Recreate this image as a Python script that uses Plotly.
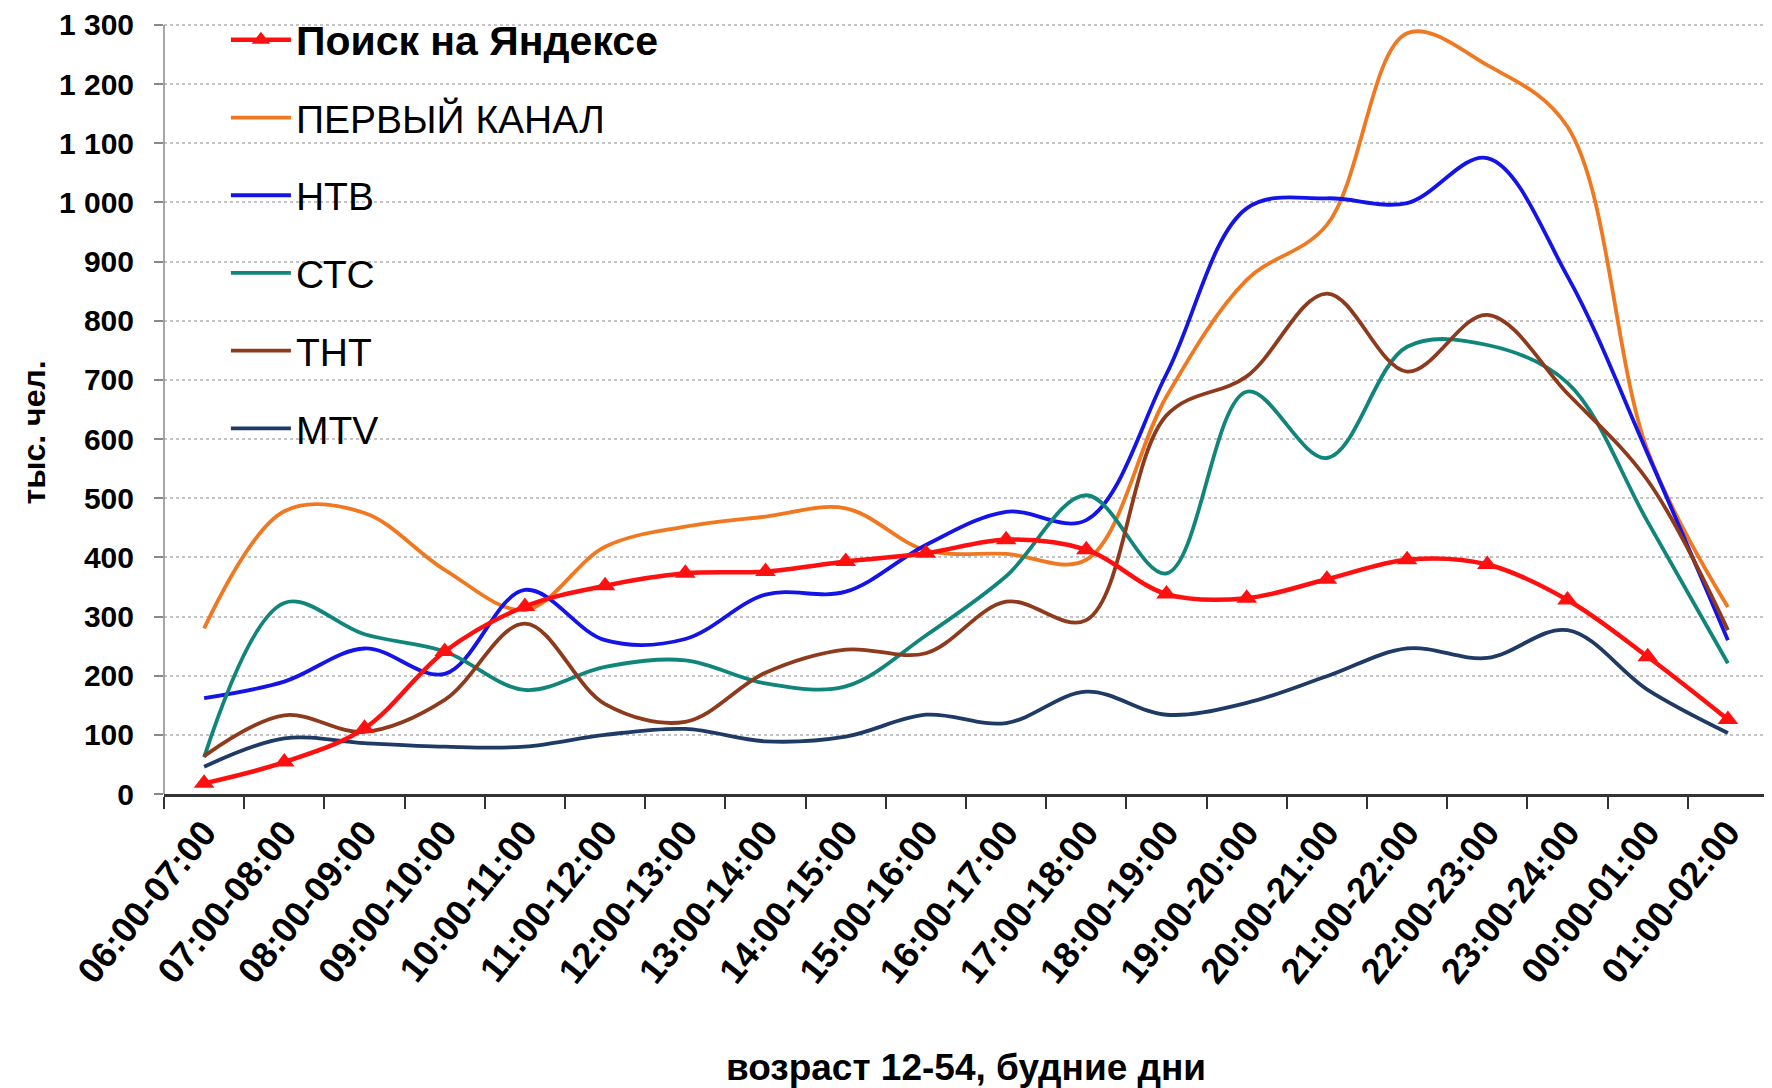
import plotly.graph_objects as go

categories = ["06:00-07:00", "07:00-08:00", "08:00-09:00", "09:00-10:00", "10:00-11:00",
              "11:00-12:00", "12:00-13:00", "13:00-14:00", "14:00-15:00", "15:00-16:00",
              "16:00-17:00", "17:00-18:00", "18:00-19:00", "19:00-20:00", "20:00-21:00",
              "21:00-22:00", "22:00-23:00", "23:00-24:00", "00:00-01:00", "01:00-02:00"]

yandex = [18, 54, 111, 241, 317, 352, 373, 376, 393, 407, 430, 413, 338, 331, 363, 396, 388, 328, 232, 126]
perviy = [280, 478, 475, 379, 311, 418, 452, 469, 483, 412, 406, 396, 672, 869, 962, 1286, 1232, 1128, 580, 316]
ntv = [162, 190, 246, 203, 345, 260, 262, 337, 342, 421, 477, 463, 710, 990, 1007, 999, 1075, 875, 575, 260]
sts = [62, 323, 270, 241, 176, 215, 226, 187, 182, 268, 368, 505, 373, 680, 568, 756, 759, 695, 460, 221]
tnt = [64, 133, 105, 159, 288, 152, 122, 205, 244, 238, 325, 294, 640, 706, 846, 714, 810, 677, 530, 277]
mtv = [46, 94, 86, 80, 80, 100, 110, 89, 97, 134, 120, 173, 134, 154, 199, 246, 230, 277, 176, 103]

y_ticks = list(range(0, 1301, 100))
y_ticktext = [f"{v:,}".replace(",", " ") for v in y_ticks]
y_max = 1300

FONT = "Arial, Liberation Sans, sans-serif"

fig = go.Figure()

series = [
    ("ПЕРВЫЙ КАНАЛ", perviy, "#F07820", 2),
    ("НТВ", ntv, "#1414E6", 3),
    ("СТС", sts, "#10857A", 4),
    ("ТНТ", tnt, "#8E3A1C", 5),
    ("MTV", mtv, "#1F3A64", 6),
]
for name, vals, color, rank in series:
    fig.add_trace(go.Scatter(
        x=categories, y=vals, name=name, mode="lines",
        line=dict(color=color, width=3.8, shape="spline", smoothing=1.0),
        legendrank=rank, legendgroup=f"g{rank}",
    ))

fig.add_trace(go.Scatter(
    x=categories, y=yandex,
    name="<span style='font-size:41px'><b>Поиск на Яндексе</b></span>",
    mode="lines+markers",
    line=dict(color="#FF1010", width=4.5, shape="spline", smoothing=1.0),
    marker=dict(symbol="triangle-up", size=18, color="#FF1010"),
    legendrank=1, legendgroup="g1",
))

# white area behind the legend hiding the grid lines
fig.add_shape(type="rect", xref="paper", yref="y", x0=0.002, x1=0.345, y0=550, y1=1340,
              fillcolor="white", line=dict(width=0), layer="between")
# vertical axis line, from 0 up to the top tick only
fig.add_shape(type="line", xref="paper", yref="y", x0=0, x1=0, y0=0, y1=y_max,
              line=dict(color="#888888", width=1.5), layer="above")

# y axis title
fig.add_annotation(text="<b>тыс. чел.</b>", xref="paper", yref="paper", x=-0.081, y=0.46,
                   textangle=-90, showarrow=False, font=dict(size=32, family=FONT, color="#000000"),
                   xanchor="center", yanchor="middle")

fig.update_layout(
    width=1764, height=1080,
    margin=dict(l=156, r=4, t=0, b=294),
    paper_bgcolor="white", plot_bgcolor="white",
    font=dict(family=FONT, color="#000000"),
    showlegend=True,
    legend=dict(x=0.0386, y=1.0, xanchor="left", yanchor="top",
                bgcolor="rgba(0,0,0,0)", font=dict(size=39, family=FONT),
                tracegroupgap=24, itemwidth=60, traceorder="grouped"),
    xaxis=dict(
        type="category", range=[-0.5, 19.5], automargin=False,
        tickson="boundaries", ticks="outside", ticklen=12, tickwidth=2, tickcolor="#333333",
        showline=True, linecolor="#333333", linewidth=3,
        showgrid=False, tickangle=-51,
        tickfont=dict(size=36, family=FONT, weight="bold"),
        title=dict(text="<b>возраст 12-54, будние дни</b>", font=dict(size=37, family=FONT), standoff=68),
    ),
    yaxis=dict(
        range=[0, 1328.7], tickvals=y_ticks, ticktext=y_ticktext, automargin=False,
        ticks="outside", ticklen=9, tickcolor="#888888", tickwidth=1.5,
        showline=False,
        showgrid=True, gridcolor="#c4c4c4", griddash="dot", gridwidth=2,
        zeroline=False, ticklabelstandoff=14,
        tickfont=dict(size=30, family=FONT, weight="bold"),
    ),
)

fig.write_html("out.html")
